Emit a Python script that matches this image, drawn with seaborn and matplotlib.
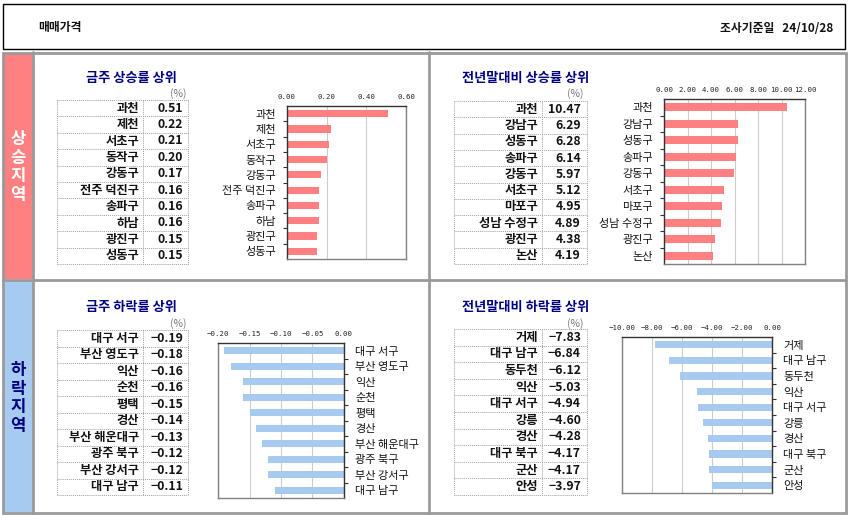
import numpy as np
import matplotlib
matplotlib.use("Agg")
import matplotlib.pyplot as plt
import matplotlib.patches as mpatches
import seaborn as sns
import pandas as pd

sns.set_theme(style="white")
plt.rcParams['font.family'] = ['Noto Sans CJK KR', 'DejaVu Sans']
plt.rcParams['axes.unicode_minus'] = True

# ---------------- data ----------------
week_up_regions = ["과천", "제천", "서초구", "동작구", "강동구", "전주 덕진구", "송파구", "하남", "광진구", "성동구"]
week_up_values = [0.51, 0.22, 0.21, 0.20, 0.17, 0.16, 0.16, 0.16, 0.15, 0.15]

ytd_up_regions = ["과천", "강남구", "성동구", "송파구", "강동구", "서초구", "마포구", "성남 수정구", "광진구", "논산"]
ytd_up_values = [10.47, 6.29, 6.28, 6.14, 5.97, 5.12, 4.95, 4.89, 4.38, 4.19]

week_down_regions = ["대구 서구", "부산 영도구", "익산", "순천", "평택", "경산", "부산 해운대구", "광주 북구", "부산 강서구", "대구 남구"]
week_down_values = [-0.19, -0.18, -0.16, -0.16, -0.15, -0.14, -0.13, -0.12, -0.12, -0.11]

ytd_down_regions = ["거제", "대구 남구", "동두천", "익산", "대구 서구", "강릉", "경산", "대구 북구", "군산", "안성"]
ytd_down_values = [-7.83, -6.84, -6.12, -5.03, -4.94, -4.60, -4.28, -4.17, -4.17, -3.97]

week_ticks = [0.00, 0.20, 0.40, 0.60]
ytd_up_ticks = [0.00, 2.00, 4.00, 6.00, 8.00, 10.00, 12.00]
week_down_ticks = [-0.20, -0.15, -0.10, -0.05, 0.00]
ytd_down_ticks = [-10.00, -8.00, -6.00, -4.00, -2.00, 0.00]

header_left = "매매가격"
header_right = "조사기준일   24/10/28"
titles = ["금주 상승률 상위", "전년말대비 상승률 상위", "금주 하락률 상위", "전년말대비 하락률 상위"]
strip_up = "상승지역"
strip_down = "하락지역"

RED = "#FF8080"
BLUE = "#A6CAF0"
NAVY = "#000080"
GRAY = "#9a9a9a"

W, H = 850, 515
fig = plt.figure(figsize=(8.5, 5.15), dpi=100)
fig.patch.set_facecolor("white")

bg = fig.add_axes([0, 0, 1, 1])
bg.set_xlim(0, W)
bg.set_ylim(H, 0)
bg.axis("off")


def px(x0, y0, x1, y1):
    return [x0 / W, 1 - y1 / H, (x1 - x0) / W, (y1 - y0) / H]


# header box
bg.add_patch(mpatches.Rectangle((3.5, 4), 842, 45, fill=False, ec="black", lw=1.0))
bg.text(38, 28, header_left, ha="left", va="center", fontsize=8.5, fontweight="bold", color="#111")
bg.text(833, 28, header_right, ha="right", va="center", fontsize=8.5, fontweight="bold", color="#111")

# colored strips
bg.add_patch(mpatches.Rectangle((3, 53), 30, 226, fc=RED, ec="none"))
bg.add_patch(mpatches.Rectangle((3, 280), 30, 232, fc=BLUE, ec="none"))
# frame lines
bg.add_patch(mpatches.Rectangle((3, 52.5), 843, 460, fill=False, ec=GRAY, lw=2))
bg.plot([33.5, 33.5], [52, 513], color=GRAY, lw=2)
bg.plot([3, 846], [279.5, 279.5], color=GRAY, lw=2)
bg.plot([429.5, 429.5], [52, 513], color=GRAY, lw=2)

bg.text(18, 167, "\n".join(strip_up), ha="center", va="center", fontsize=12,
        fontweight="bold", color="white", linespacing=1.05)
bg.text(18, 398, "\n".join(strip_down), ha="center", va="center", fontsize=12,
        fontweight="bold", color=NAVY, linespacing=1.05)

# titles
for (cx, cy), t in zip([(131, 78), (526, 78), (131, 307), (526, 307)], titles):
    bg.text(cx, cy, t, ha="center", va="center", fontsize=9.5, fontweight="bold", color=NAVY)

# (%) labels
for (rx, ry) in [(187, 94), (584, 94), (187, 324), (584, 324)]:
    bg.text(rx, ry, "(%)", ha="right", va="center", fontsize=7.5, color="#777")


def fmt(v):
    s = f"{abs(v):.2f}"
    return ("\u2212" + s) if v < 0 else s


def draw_table(x0, xs, x1, y0, y1, names, vals, name_r, val_r):
    n = len(names)
    rh = (y1 - y0) / n
    for i in range(n + 1):
        bg.plot([x0, x1], [y0 + i * rh] * 2, ls=(0, (1, 1)), color="#a0a0a0", lw=0.7)
    for x in (x0, xs, x1):
        bg.plot([x, x], [y0, y1], ls=(0, (1, 1)), color="#a0a0a0", lw=0.7)
    for i, (nm, v) in enumerate(zip(names, vals)):
        yc = y0 + (i + 0.5) * rh
        bg.text(name_r, yc, nm, ha="right", va="center", fontsize=8.8, fontweight="bold", color="#111")
        bg.text(val_r, yc, fmt(v), ha="right", va="center", fontsize=8.8, fontweight="bold", color="#111")


draw_table(57, 143, 188, 100, 264, week_up_regions, week_up_values, 139, 183)
draw_table(454, 542, 587, 101, 264, ytd_up_regions, ytd_up_values, 538, 581)
draw_table(57, 143, 188, 330, 495, week_down_regions, week_down_values, 139, 183)
draw_table(454, 542, 587, 329, 495, ytd_down_regions, ytd_down_values, 538, 581)


def draw_chart(rect, names, vals, color, xlim, ticks, right=False):
    ax = fig.add_axes(px(*rect))
    df = pd.DataFrame({"region": names, "value": vals})
    sns.barplot(data=df, x="value", y="region", orient="h", color=color,
                saturation=1, width=0.47, ax=ax, edgecolor="none")
    ax.set_xlim(*xlim)
    ax.set_ylim(len(names) - 0.5, -0.5)
    ax.set_xticks(ticks)
    ax.set_xticklabels([fmt(t) if t != 0 else "0.00" for t in ticks],
                       fontfamily="DejaVu Sans Mono", fontsize=5.3, color="#222")
    ax.xaxis.tick_top()
    ax.tick_params(axis="x", which="major", length=0, pad=4)
    ax.grid(axis="x", color="#cccccc", lw=0.8)
    ax.grid(axis="y", visible=False)
    ax.set_axisbelow(True)
    ax.set_xlabel("")
    ax.set_ylabel("")
    ax.set_yticks(np.arange(0.5, len(names) - 0.5, 1), minor=True)
    if right:
        ax.yaxis.tick_right()
        ax.yaxis.set_label_position("right")
    for lab in ax.get_yticklabels():
        lab.set_fontsize(8)
        lab.set_color("#111")
    ax.tick_params(axis="y", which="major", length=0, pad=8)
    ax.tick_params(axis="y", which="minor", length=3, width=0.8, color="#333",
                   left=not right, right=right)
    for side in ["top", "bottom", "left", "right"]:
        ax.spines[side].set_visible(True)
        ax.spines[side].set_linewidth(1.0)
    if right:
        ax.spines["right"].set_color("#333")
        ax.spines["top"].set_color("#333")
        ax.spines["left"].set_color("#808080")
        ax.spines["bottom"].set_color("#808080")
    else:
        ax.spines["left"].set_color("#333")
        ax.spines["top"].set_color("#333")
        ax.spines["right"].set_color("#808080")
        ax.spines["bottom"].set_color("#808080")
    ax.set_facecolor("white")
    return ax


draw_chart((287, 106, 406, 259), week_up_regions, week_up_values, RED, (0, 0.6), week_ticks)
draw_chart((664, 99, 805, 264), ytd_up_regions, ytd_up_values, RED, (0, 12), ytd_up_ticks)
draw_chart((218, 343, 344, 498), week_down_regions, week_down_values, BLUE, (-0.2, 0), week_down_ticks, right=True)
draw_chart((622, 337, 772, 493), ytd_down_regions, ytd_down_values, BLUE, (-10, 0), ytd_down_ticks, right=True)

fig.savefig("out.png", dpi=100)
